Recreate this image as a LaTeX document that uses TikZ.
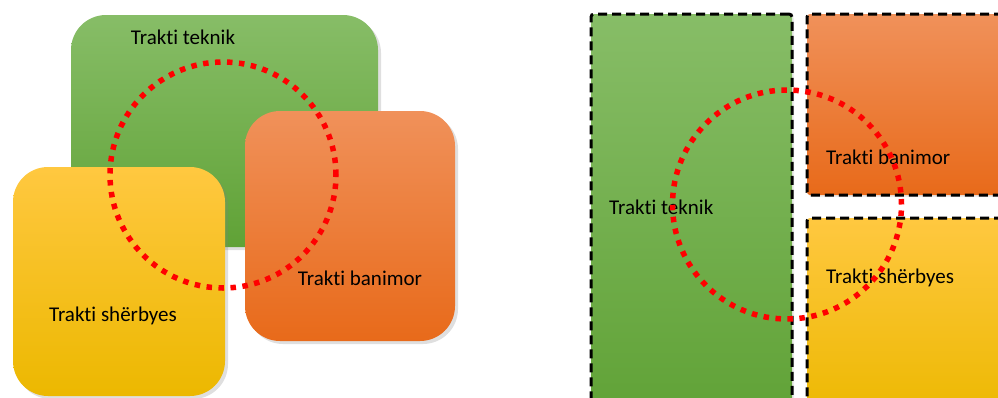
\documentclass[tikz,border=0pt]{standalone}
\usepackage{fontspec}
\setmainfont[Ligatures=NoCommon]{Carlito}
\usetikzlibrary{shadows}

\definecolor{grtop}{HTML}{87BD67}
\definecolor{grbot}{HTML}{60A236}
\definecolor{ortop}{HTML}{F0915A}
\definecolor{orbot}{HTML}{E86A1A}
\definecolor{yetop}{HTML}{FFC840}
\definecolor{yebot}{HTML}{ECB800}

\begin{document}
\begin{tikzpicture}[
  x=1pt,y=-1pt,
  tract/.style={inner sep=0pt,rounded corners=35pt,
                drop shadow={opacity=0.25,shadow xshift=3pt,shadow yshift=-3pt}},
  plot/.style={inner sep=0pt,rounded corners=3pt,draw=black,line width=3pt,
               dash pattern=on 9pt off 5pt,
               drop shadow={opacity=0.15,shadow xshift=2pt,shadow yshift=-2pt}},
  green/.style={top color=grtop,bottom color=grbot},
  orange/.style={top color=ortop,bottom color=orbot},
  yellow/.style={top color=yetop,bottom color=yebot},
  lbl/.style={inner sep=0pt,font=\fontsize{21}{25}\selectfont},
  ring/.style={circle,draw=red,line width=5.5pt,dash pattern=on 5.5pt off 6.5pt,
               inner sep=0pt},
]
\clip (0,0) rectangle (998,397);

% left: overlapping tracts
\node[tract,green,minimum width=307pt,minimum height=232pt]  (tek)  at (224.5,131) {};
\node[tract,yellow,minimum width=212pt,minimum height=229pt] (sher) at (119,281.5) {};
\node[tract,orange,minimum width=210pt,minimum height=230pt] (ban)  at (350,226) {};

\node[lbl] (tektxt)  at (183,37)  {Trakti teknik};
\node[lbl] (bantxt)  at (360,278) {Trakti banimor};
\node[lbl] (shertxt) at (113,316) {Trakti shërbyes};

\node[ring,minimum size=226pt] (zone) at (223,175) {};

% right: separated plots
\node[plot,green,minimum width=201pt,minimum height=406pt]  (tekb)  at (691.5,217) {};
\node[plot,orange,minimum width=213pt,minimum height=181pt] (banb)  at (913.5,104.5) {};
\node[plot,yellow,minimum width=213pt,minimum height=202pt] (sherb) at (913.5,319) {};

\node[lbl,anchor=west] (tekbtxt)  at (609,207) {Trakti teknik};
\node[lbl,anchor=west] (banbtxt)  at (826,157) {Trakti banimor};
\node[lbl,anchor=west] (sherbtxt) at (826,278) {Trakti shërbyes};

\node[ring,minimum size=229pt] (zoneb) at (787,204.5) {};

\end{tikzpicture}
\end{document}
